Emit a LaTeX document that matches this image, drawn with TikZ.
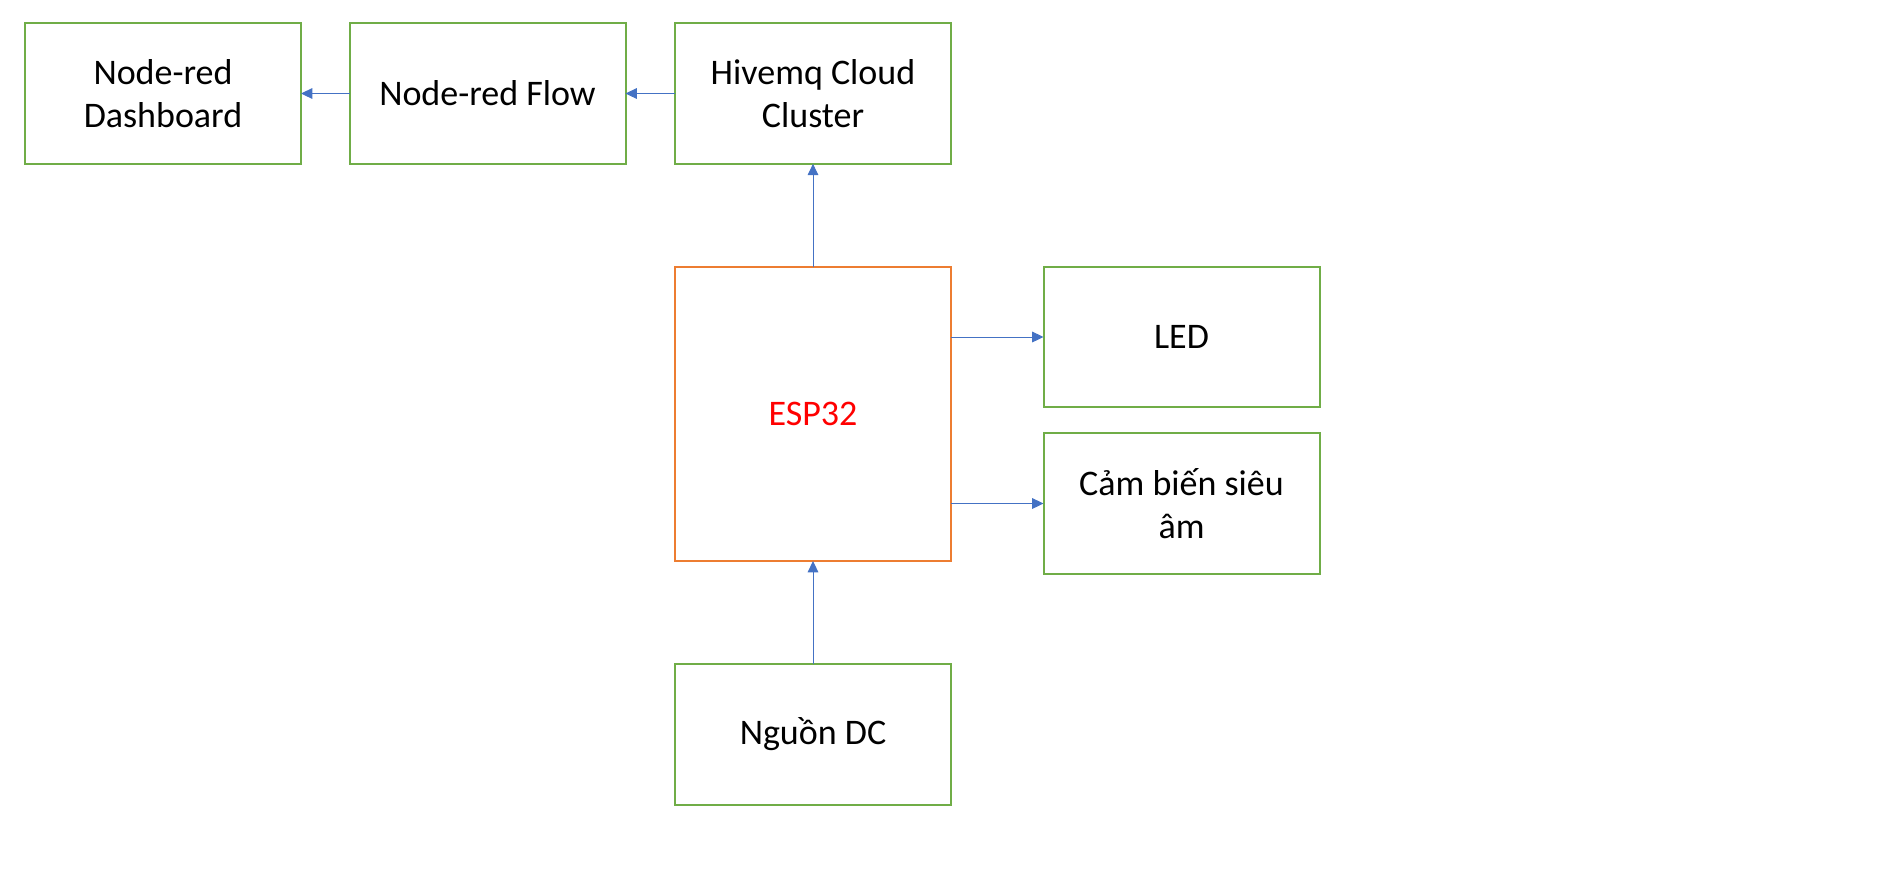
\documentclass[tikz,border=0pt]{standalone}
\usepackage{fontspec}
\setmainfont{Carlito}
\usetikzlibrary{arrows.meta}
\definecolor{boxgreen}{HTML}{70AD47}
\definecolor{boxorange}{HTML}{ED7D31}
\definecolor{arrowblue}{HTML}{4472C4}
\definecolor{textred}{HTML}{FF0000}
\begin{document}
\begin{tikzpicture}[x=0.75pt,y=-0.75pt,
  blockbox/.style={draw=boxgreen,line width=1.5pt,minimum width=207pt,minimum height=105.5pt,inner sep=0pt,outer sep=0pt,align=center,font=\fontsize{27}{32.5}\selectfont},
  conn/.style={draw=arrowblue,line width=0.75pt,-{Triangle[length=8.5pt,width=8pt]}}]
\useasboundingbox (0,0) rectangle (1902,876);
\node[blockbox] (dash) at (163,93.5) {Node-red\\Dashboard};
\node[blockbox] (flow) at (487.5,93.5) {Node-red Flow};
\node[blockbox] (hive) at (813,93.5) {Hivemq Cloud\\Cluster};
\node[blockbox,draw=boxorange,minimum height=220.5pt,text=textred] (esp) at (813,414) {ESP32};
\node[blockbox] (led) at (1181.5,337) {LED};
\node[blockbox] (cam) at (1181.5,503.5) {Cảm biến siêu\\âm};
\node[blockbox] (ng) at (813,734.5) {Nguồn DC};
\draw[conn] (flow.west) -- (dash.east);
\draw[conn] (hive.west) -- (flow.east);
\draw[conn] (esp.north) -- (hive.south);
\draw[conn] (esp.east |- led.west) -- (led.west);
\draw[conn] (esp.east |- cam.west) -- (cam.west);
\draw[conn] (ng.north) -- (esp.south);
\end{tikzpicture}
\end{document}
